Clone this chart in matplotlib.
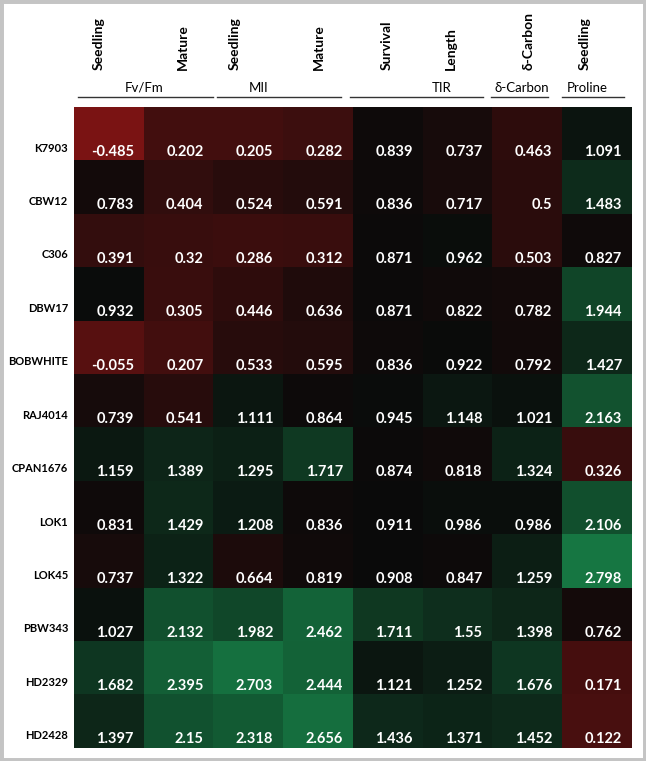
import numpy as np
import matplotlib
matplotlib.use('Agg')
import matplotlib.pyplot as plt
from matplotlib.colors import LinearSegmentedColormap, TwoSlopeNorm
from matplotlib.lines import Line2D
from matplotlib.patches import Rectangle

plt.rcParams['font.family'] = ['Lato', 'DejaVu Sans']

# data
lines = ['K7903', 'CBW12', 'C306', 'DBW17', 'BOBWHITE', 'RAJ4014',
         'CPAN1676', 'LOK1', 'LOK45', 'PBW343', 'HD2329', 'HD2428']
traits = ['Seedling', 'Mature', 'Seedling', 'Mature',
          'Survival', 'Length', 'δ-Carbon', 'Seedling']
groups = ['Fv/Fm', 'MII', 'TIR', 'δ-Carbon', 'Proline']

fvfm_seedling = [-0.485, 0.783, 0.391, 0.932, -0.055, 0.739, 1.159, 0.831, 0.737, 1.027, 1.682, 1.397]
fvfm_mature = [0.202, 0.404, 0.32, 0.305, 0.207, 0.541, 1.389, 1.429, 1.322, 2.132, 2.395, 2.15]
mii_seedling = [0.205, 0.524, 0.286, 0.446, 0.533, 1.111, 1.295, 1.208, 0.664, 1.982, 2.703, 2.318]
mii_mature = [0.282, 0.591, 0.312, 0.636, 0.595, 0.864, 1.717, 0.836, 0.819, 2.462, 2.444, 2.656]
tir_survival = [0.839, 0.836, 0.871, 0.871, 0.836, 0.945, 0.874, 0.911, 0.908, 1.711, 1.121, 1.436]
tir_length = [0.737, 0.717, 0.962, 0.822, 0.922, 1.148, 0.818, 0.986, 0.847, 1.55, 1.252, 1.371]
d_carbon = [0.463, 0.5, 0.503, 0.782, 0.792, 1.021, 1.324, 0.986, 1.259, 1.398, 1.676, 1.452]
proline_seedling = [1.091, 1.483, 0.827, 1.944, 1.427, 2.163, 0.326, 2.106, 2.798, 0.762, 0.171, 0.122]

W, H = 646, 761


def fx(x):
    return x / W


def fy(y):
    return 1 - y / H


def main():
    values = np.column_stack([fvfm_seedling, fvfm_mature, mii_seedling, mii_mature,
                              tir_survival, tir_length, d_carbon, proline_seedling])
    n_rows, n_cols = values.shape

    fig = plt.figure(figsize=(W / 100, H / 100), dpi=100)
    fig.patch.set_facecolor('white')

    # heatmap area in pixels
    left, top, right, bottom = 74, 107, 632, 748
    ax = fig.add_axes([fx(left), fy(bottom), (right - left) / W, (bottom - top) / H])

    # excel style red - black - green scale
    cmap = LinearSegmentedColormap.from_list('rbg', ['#7a1313', '#0a0a0a', '#167642'])
    norm = TwoSlopeNorm(vmin=values.min(), vcenter=0.9, vmax=values.max())
    ax.imshow(values, cmap=cmap, norm=norm, aspect='auto',
              extent=(0, n_cols, n_rows, 0), interpolation='nearest')
    ax.set_axis_off()

    col_w = (right - left) / n_cols
    for i in range(n_rows):
        for j in range(n_cols):
            ax.text(j + 1 - 10 / col_w, i + 0.84, str(values[i, j]),
                    ha='right', va='center', color='white',
                    fontsize=10.5, fontweight='bold')
        ax.text(-6 / col_w, i + 0.77, lines[i], ha='right', va='center',
                color='black', fontsize=8, fontweight='bold', clip_on=False)

    # rotated column headers
    head_x = [99, 183, 235, 319, 387, 451, 529, 585]
    for x, t in zip(head_x, traits):
        fig.text(fx(x), fy(70), t, rotation=90, ha='center', va='bottom',
                 fontsize=10, fontweight='bold')

    # group labels with underlines
    group_x = [144, 259, 442, 522, 587]
    group_lines = [(78, 213), (217, 341), (350, 483), (491, 548), (562, 624)]
    for x, g, (x1, x2) in zip(group_x, groups, group_lines):
        fig.text(fx(x), fy(88), g, ha='center', va='center', fontsize=9.5)
        fig.add_artist(Line2D([fx(x1), fx(x2)], [fy(96.5), fy(96.5)],
                              transform=fig.transFigure, color='#333333', lw=1))

    # grey frame round the picture
    fig.add_artist(Rectangle((0, 0), 1, 1, transform=fig.transFigure,
                             fill=False, edgecolor='#c4c4c4', lw=5))

    fig.savefig('out.png', dpi=100, facecolor='white')


if __name__ == '__main__':
    main()
